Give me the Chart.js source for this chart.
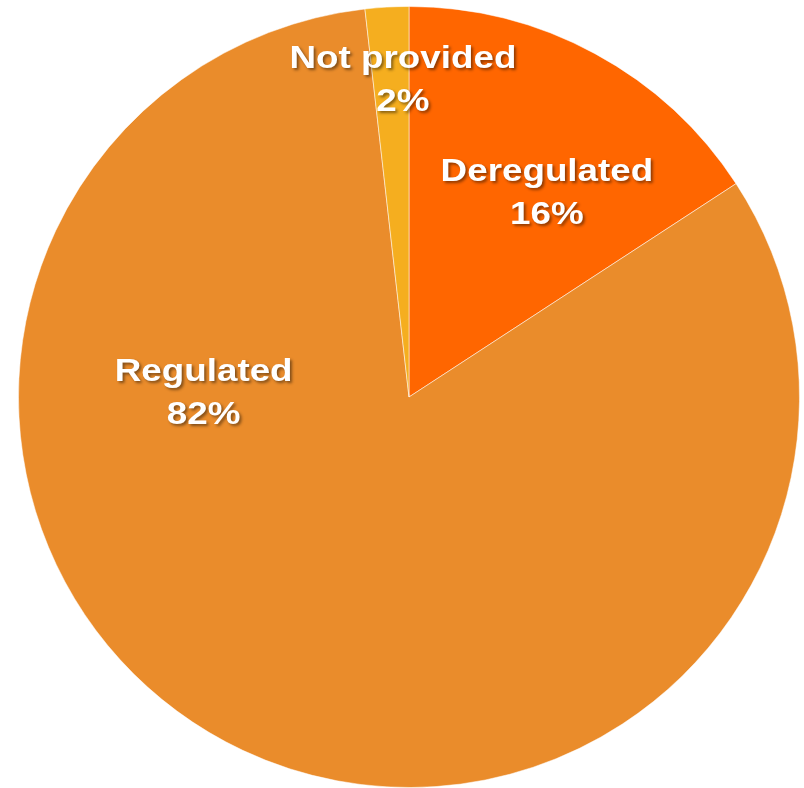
<!DOCTYPE html>
<html>
<head>
<meta charset="utf-8">
<script src="https://cdn.jsdelivr.net/npm/chart.js@4"></script>
<style>
  html, body { margin: 0; padding: 0; background: #fff; }
  #wrap { width: 804px; height: 788px; }
</style>
</head>
<body>
<div id="wrap"><canvas id="pie-chart" width="804" height="788"></canvas></div>
<script>
/* Data
=============================================================== */
const categories = ['Deregulated', 'Regulated', 'Not provided']
const shares = [15.8, 82.4, 1.8]
const sliceColors = ['#FF6600', '#EA8C2B', '#F5AE1F']

// where each label sits: [angle from top in degrees, fraction of radius]
const labelSpots = [[34.1, 0.63], [-88.9, 0.526], [-1.1, 0.811]]

/* Label plugin
=============================================================== */
const sliceLabels = {
  id: 'sliceLabels',
  afterDatasetsDraw(chart) {
    const { ctx } = chart
    const arcs = chart.getDatasetMeta(0).data
    ctx.save()
    ctx.font = 'bold 32px "Liberation Sans", Arial, sans-serif'
    ctx.fillStyle = '#fff'
    ctx.textAlign = 'center'
    ctx.textBaseline = 'middle'
    ctx.shadowColor = 'rgba(0, 0, 0, 0.45)'
    ctx.shadowOffsetX = 2
    ctx.shadowOffsetY = 2
    ctx.shadowBlur = 3
    arcs.forEach((arc, i) => {
      const a = labelSpots[i][0] * Math.PI / 180
      const r = arc.outerRadius * labelSpots[i][1]
      const x = arc.x + Math.sin(a) * r
      const y = arc.y - Math.cos(a) * r
      // the original text is a little wider than the font gives
      ctx.save()
      ctx.translate(x, y)
      ctx.scale(1.15, 1)
      ctx.fillText(categories[i], 0, -21)
      ctx.fillText(Math.round(shares[i]) + '%', 0, 22)
      ctx.restore()
    })
    ctx.restore()
  }
}

/* Chart
=============================================================== */
const pieCanvas = document.getElementById('pie-chart')

const pieChart = new Chart(pieCanvas, {
  type: 'pie',
  data: {
    labels: categories,
    datasets: [
      {
        data: shares,
        backgroundColor: sliceColors,
        borderColor: 'rgba(255, 255, 255, 0.5)',
        borderWidth: 1
      }
    ]
  },
  options: {
    responsive: false,
    animation: false,
    layout: {
      padding: { left: 14, right: 0, top: 6, bottom: 0 }
    },
    plugins: {
      legend: { display: false },
      tooltip: { enabled: false }
    }
  },
  plugins: [sliceLabels]
})
</script>
</body>
</html>
